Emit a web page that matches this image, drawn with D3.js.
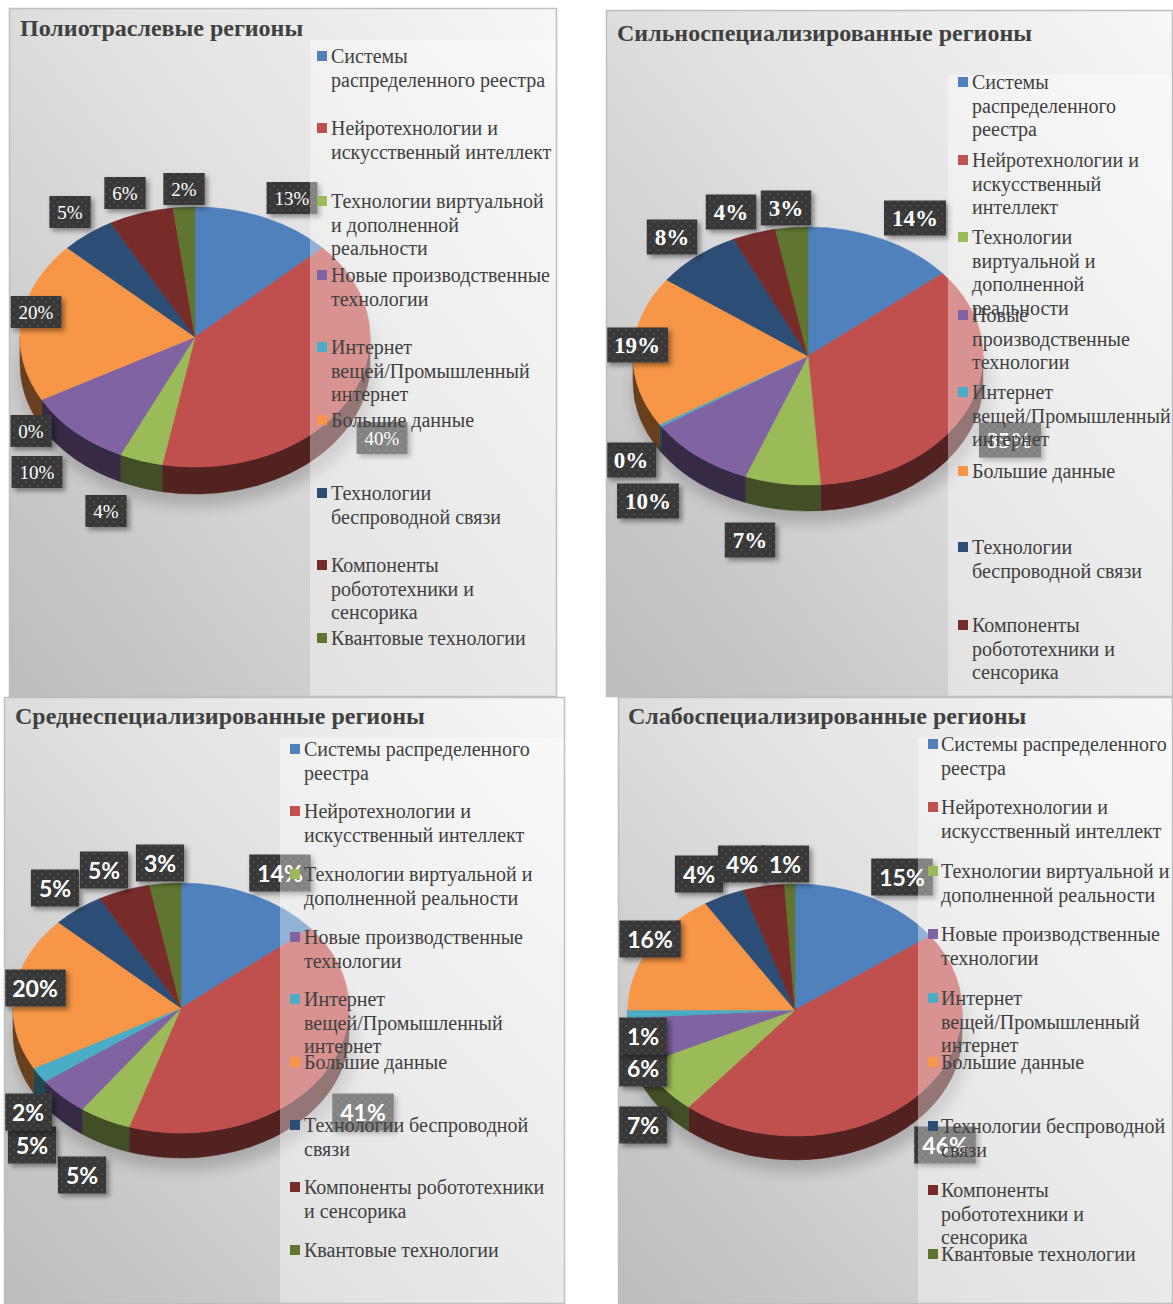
<!DOCTYPE html>
<html><head><meta charset="utf-8">
<script src="https://cdn.jsdelivr.net/npm/d3@7"></script>
<style>body{margin:0;background:#fff}svg{display:block}</style>
</head><body>
<svg id="c" width="1173" height="1304"></svg>
<script>
// ---------- DATA ----------
const categories = ["Системы распределенного реестра","Нейротехнологии и искусственный интеллект","Технологии виртуальной и дополненной реальности","Новые производственные технологии","Интернет вещей/Промышленный интернет","Большие данные","Технологии беспроводной связи","Компоненты робототехники и сенсорика","Квантовые технологии"];
const titles = ["Полиотраслевые регионы","Сильноспециализированные регионы","Среднеспециализированные регионы","Слабоспециализированные регионы"];
const valuesPoly   = [13, 40, 4, 10, 0,   20, 5, 6, 2];
const valuesStrong = [14, 35, 7, 10, 0.3, 19, 8, 4, 3];
const valuesMedium = [14, 41, 5, 5,  2,   20, 5, 5, 3];
const valuesWeak   = [15, 46, 7, 6,  1,   16, 4, 4, 1];
const legendPoly = [["Системы","распределенного реестра"],["Нейротехнологии и","искусственный интеллект"],["Технологии виртуальной","и дополненной","реальности"],["Новые производственные","технологии"],["Интернет","вещей/Промышленный","интернет"],["Большие данные"],["Технологии","беспроводной связи"],["Компоненты","робототехники и","сенсорика"],["Квантовые технологии"]];
const legendStrong = [["Системы","распределенного","реестра"],["Нейротехнологии и","искусственный","интеллект"],["Технологии","виртуальной и","дополненной","реальности"],["Новые","производственные","технологии"],["Интернет","вещей/Промышленный","интернет"],["Большие данные"],["Технологии","беспроводной связи"],["Компоненты","робототехники и","сенсорика"],["Квантовые технологии"]];
const legendMedium = [["Системы распределенного","реестра"],["Нейротехнологии и","искусственный интеллект"],["Технологии виртуальной и","дополненной реальности"],["Новые производственные","технологии"],["Интернет","вещей/Промышленный","интернет"],["Большие данные"],["Технологии беспроводной","связи"],["Компоненты робототехники","и сенсорика"],["Квантовые технологии"]];
const legendWeak = [["Системы распределенного","реестра"],["Нейротехнологии и","искусственный интеллект"],["Технологии виртуальной и","дополненной реальности"],["Новые производственные","технологии"],["Интернет","вещей/Промышленный","интернет"],["Большие данные"],["Технологии беспроводной","связи"],["Компоненты","робототехники и","сенсорика"],["Квантовые технологии"]];
const datasets = [
  {title: titles[0], values: valuesPoly, legend: legendPoly},
  {title: titles[1], values: valuesStrong, legend: legendStrong},
  {title: titles[2], values: valuesMedium, legend: legendMedium},
  {title: titles[3], values: valuesWeak, legend: legendWeak}
];

// ---------- STYLE / LAYOUT ----------
const colors = ["#4F81BD","#C0504D","#9BBB59","#8064A2","#4BACC6","#F79646","#2C4D75","#772C2A","#5F7530"];
const layouts = [
  {box:[9,8,557,697], titleX:20, titleY:28, cx:195, cy:337, rx:175, ry:130, depth:27,
   leg:{x:310, y:40, sq:317, tx:331, lh:23.5, items:[56,128,201,275,347,420,493,565,638]},
   lblFont:"'Liberation Serif', serif", lblWeight:"normal", lblSize:19, lblH:32,
   lbl:[[292,198],[382,438],[106,511],[37,472],[31,431],[36,312],[70,212],[125,193],[184,189]]},
  {box:[606,10,1173,697], titleX:617, titleY:33, cx:808, cy:356, rx:175, ry:129, depth:26,
   leg:{x:948, y:75, sq:958, tx:972, lh:23.5, items:[82,160,237,315,392,471,547,625,703]},
   lblFont:"'Liberation Serif', serif", lblWeight:"bold", lblSize:23, lblH:35,
   lbl:[[915,218],[1010,440],[750,540],[648,501],[631,460],[637,345],[672,237],[731,212],[786,208]]},
  {box:[4,697,565,1304], titleX:15, titleY:716, cx:181, cy:1008, rx:168, ry:125, depth:25,
   leg:{x:280, y:738, sq:290, tx:304, lh:23.5, items:[749,811,874,937,999,1062,1125,1187,1250]},
   lblFont:"Lato, 'Open Sans', sans-serif", lblWeight:"bold", lblSize:23, lblH:37,
   lbl:[[280,873],[363,1112],[82,1175],[32,1145],[28,1112],[35,988],[55,888],[104,870],[160,863]]},
  {box:[618,697,1173,1304], titleX:628, titleY:716, cx:795, cy:1010, rx:167, ry:126, depth:24,
   leg:{x:918, y:738, sq:928, tx:941, lh:23.5, items:[744,807,871,934,998,1062,1126,1190,1254]},
   lblFont:"Lato, 'Open Sans', sans-serif", lblWeight:"bold", lblSize:23, lblH:37,
   lbl:[[902,877],[945,1145],[643,1125],[643,1068],[643,1036],[650,939],[699,874],[742,864],[785,864]]}
];

// ---------- DRAW ----------
const svg = d3.select("#c");
const defs = svg.append("defs");
const bg = defs.append("linearGradient").attr("id","bg").attr("x1",1).attr("y1",0).attr("x2",0).attr("y2",1);
bg.append("stop").attr("offset",0).attr("stop-color","#f7f7f7");
bg.append("stop").attr("offset",0.45).attr("stop-color","#e0e0e0");
bg.append("stop").attr("offset",1).attr("stop-color","#bcbcbc");
const pat = defs.append("pattern").attr("id","dots").attr("width",8).attr("height",8).attr("patternUnits","userSpaceOnUse");
pat.append("rect").attr("width",8).attr("height",8).attr("fill","#383838");
pat.append("circle").attr("cx",2).attr("cy",2).attr("r",1).attr("fill","#505050");
pat.append("circle").attr("cx",6).attr("cy",6).attr("r",1).attr("fill","#505050");
const sh = defs.append("filter").attr("id","lblShadow").attr("x","-30%").attr("y","-30%").attr("width","170%").attr("height","170%");
sh.append("feDropShadow").attr("dx",3).attr("dy",3).attr("stdDeviation",2.5).attr("flood-color","#000").attr("flood-opacity",0.4);
const blur = defs.append("filter").attr("id","pieShadow").attr("x","-30%").attr("y","-30%").attr("width","160%").attr("height","160%");
blur.append("feGaussianBlur").attr("stdDeviation",7);

layouts.forEach((L, i) => {
  const D = datasets[i];
  const [x0,y0,x1,y1] = L.box;
  defs.append("clipPath").attr("id","clip"+i).append("rect").attr("x",x0).attr("y",y0).attr("width",x1-x0).attr("height",y1-y0);
  const g = svg.append("g").attr("clip-path",`url(#clip${i})`);
  g.append("rect").attr("x",x0).attr("y",y0).attr("width",x1-x0).attr("height",y1-y0)
    .attr("fill","url(#bg)");

  // title
  g.append("text").attr("x",L.titleX).attr("y",L.titleY).attr("dominant-baseline","central")
    .attr("font-family","'Liberation Serif', serif").attr("font-weight","bold").attr("font-size",24)
    .attr("fill","#404040").text(D.title);

  // pie
  const arcs = d3.pie().sort(null).value(d => d)(D.values);
  const P = (a, dy = 0) => [L.cx + L.rx * Math.sin(a), L.cy - L.ry * Math.cos(a) + dy];

  g.append("ellipse").attr("cx",L.cx+4).attr("cy",L.cy+L.depth+8).attr("rx",L.rx+4).attr("ry",L.ry+4)
    .attr("fill","#000").attr("opacity",0.18).attr("filter","url(#pieShadow)");

  // side walls (front half only)
  const wallG = g.append("g");
  arcs.forEach((a, k) => {
    const b0 = Math.max(a.startAngle, Math.PI/2), b1 = Math.min(a.endAngle, 3*Math.PI/2);
    if (b1 - b0 <= 1e-6) return;
    const p0 = P(b0), p1 = P(b1), q1 = P(b1, L.depth), q0 = P(b0, L.depth);
    const d = `M${p0}A${L.rx},${L.ry} 0 0 1 ${p1}L${q1}A${L.rx},${L.ry} 0 0 0 ${q0}Z`;
    const c = d3.color(colors[k]).darker(2.4);
    wallG.append("path").attr("d",d).attr("fill",c).attr("stroke",c).attr("stroke-width",0.5);
  });

  // top surfaces
  const topG = g.append("g");
  arcs.forEach((a, k) => {
    if (a.endAngle - a.startAngle <= 1e-6) return;
    const p0 = P(a.startAngle), p1 = P(a.endAngle);
    const large = (a.endAngle - a.startAngle) > Math.PI ? 1 : 0;
    const d = `M${L.cx},${L.cy}L${p0}A${L.rx},${L.ry} 0 ${large} 1 ${p1}Z`;
    topG.append("path").attr("d",d).attr("fill",colors[k]).attr("stroke",colors[k]).attr("stroke-width",0.6);
  });

  // data labels
  const lblG = g.append("g");
  arcs.forEach((a, k) => {
    const [lx, ly] = L.lbl[k];
    const txt = Math.round(a.data) + "%";
    const lg = lblG.append("g");
    const t = lg.append("text").attr("x",lx).attr("y",ly).attr("text-anchor","middle").attr("dominant-baseline","central")
      .attr("font-family",L.lblFont).attr("font-weight",L.lblWeight).attr("font-size",L.lblSize)
      .attr("fill","#fff").text(txt);
    const w = t.node().getComputedTextLength() + 16;
    lg.insert("rect","text").attr("x",lx - w/2).attr("y",ly - L.lblH/2).attr("width",w).attr("height",L.lblH)
      .attr("fill","url(#dots)").attr("filter","url(#lblShadow)");
  });

  // legend overlay
  g.append("rect").attr("x",L.leg.x).attr("y",L.leg.y).attr("width",x1 - L.leg.x - 1).attr("height",y1 - L.leg.y)
    .attr("fill","#fff").attr("opacity",0.38);
  const legG = g.append("g");
  D.legend.forEach((lines, k) => {
    const yy = L.leg.items[k];
    legG.append("rect").attr("x",L.leg.sq).attr("y",yy-5).attr("width",10).attr("height",10).attr("fill",colors[k]);
    lines.forEach((ln, j) => {
      legG.append("text").attr("x",L.leg.tx).attr("y",yy + j*L.leg.lh).attr("dominant-baseline","central")
        .attr("font-family","'Liberation Serif', serif").attr("font-size",20).attr("fill","#404040").text(ln);
    });
  });

  // border
  svg.append("rect").attr("x",x0+0.5).attr("y",y0+0.5).attr("width",x1-x0-1).attr("height",y1-y0-1)
    .attr("fill","none").attr("stroke","#bfbfbf").attr("stroke-width",1.5);
});
</script>
</body></html>
